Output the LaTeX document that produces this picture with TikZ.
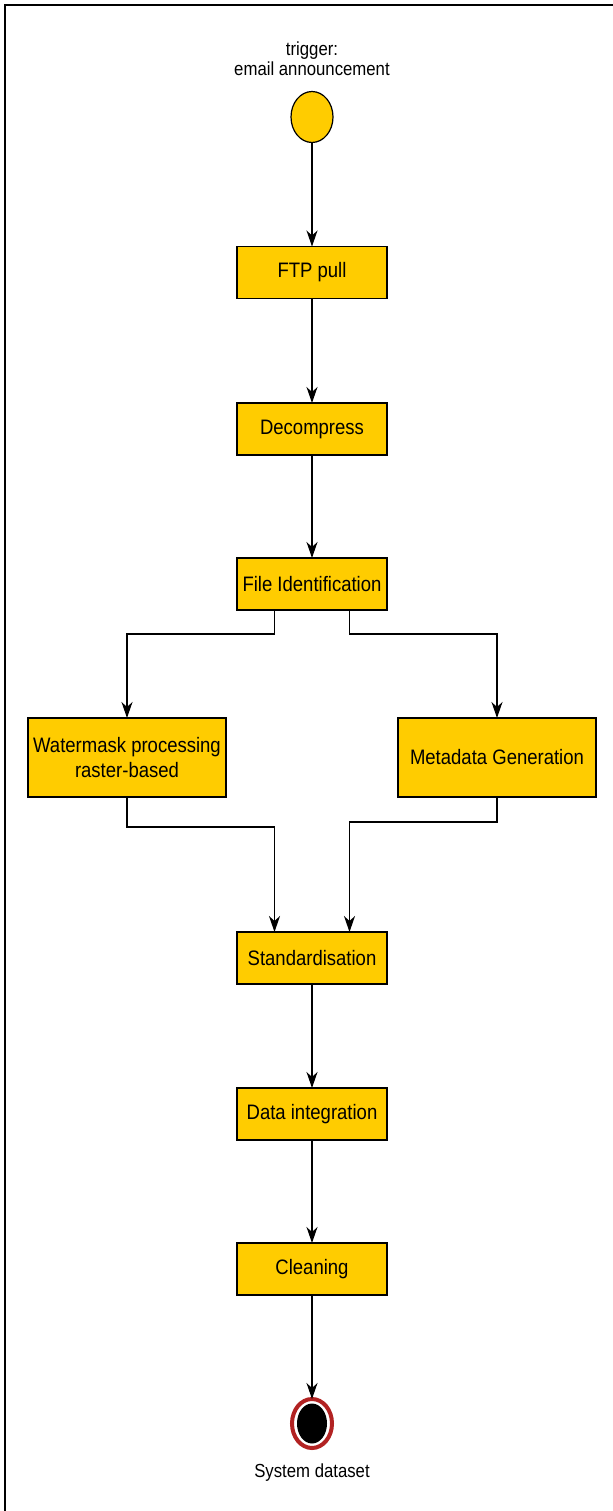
\documentclass[tikz,border=0pt]{standalone}
\usepackage{fontspec}
\setmainfont{Liberation Sans}[FakeStretch=0.885]
\usepackage{tikz}
\usetikzlibrary{positioning}
\usetikzlibrary{arrows.meta}
\usetikzlibrary{shapes,calc}
\definecolor{stepyellow}{RGB}{255,204,0}
\definecolor{endred}{RGB}{178,34,34}
\tikzset{task node/.style={rectangle,fill=stepyellow,draw,line width=1.2bp,outer sep=0pt,minimum width=150bp,minimum height=52bp,inner sep=0pt,align=center,font=\fontsize{21}{25}\selectfont},
	wide node/.style={task node,minimum width=198bp,minimum height=79bp},
	start node/.style={ellipse,fill=stepyellow,draw,line width=1.2bp,outer sep=0pt,minimum width=42bp,minimum height=51bp,inner sep=0pt},
	label node/.style={inner sep=0pt,outer sep=0pt,align=center,font=\fontsize{19}{20}\selectfont},
	flow/.style={-{Stealth[length=16bp,width=11bp,inset=5bp]},line width=1.2bp},}

\begin{document}
\begin{tikzpicture}
	\useasboundingbox (0,0) rectangle (613bp,-1511bp);
	\draw[line width=2.5bp] (5bp,-1511bp) -- (5bp,-5bp) -- (613bp,-5bp);

	\node[start node] (start) at (312bp,-117bp) {};
	\node[label node] (trigger) [above = 16bp of start] {trigger:\\email announcement};
	\node[task node] (ftp) [below = 104bp of start] {FTP pull};
	\node[task node] (dec) [below = 104.5bp of ftp] {Decompress};
	\node[task node] (fid) [below = 103bp of dec] {File Identification};
	\node[wide node] (wm) [below = 108bp of fid, xshift=-185bp] {Watermask processing\\raster-based};
	\node[wide node] (meta) [below = 108bp of fid, xshift=185bp] {Metadata Generation};
	\node[task node] (std) [below = 322bp of fid] {Standardisation};
	\node[task node] (di) [below = 104bp of std] {Data integration};
	\node[task node] (cln) [below = 103bp of di] {Cleaning};
	\node[ellipse,draw=endred,line width=4bp,outer sep=0pt,fill=white,minimum width=40bp,minimum height=49bp,inner sep=0pt] (end) [below = 104bp of cln] {};
	\node[ellipse,fill=black,minimum width=30bp,minimum height=40bp,inner sep=0pt] (endcore) at (end) {};
	\node[label node] (sysdata) [below = 16bp of end] {System dataset};

	\path[draw,flow]
	(start) edge (ftp)
	(ftp) edge (dec)
	(dec) edge (fid)
	(std) edge (di)
	(di) edge (cln)
	(cln) edge (end);

	\draw[flow] ([xshift=-37.5bp]fid.south) -- ++(0,-24bp) -| (wm.north);
	\draw[flow] ([xshift=37.5bp]fid.south) -- ++(0,-24bp) -| (meta.north);
	\draw[flow] (wm.south) -- ++(0,-30bp) -| ([xshift=-37.5bp]std.north);
	\draw[flow] (meta.south) -- ++(0,-25bp) -| ([xshift=37.5bp]std.north);
\end{tikzpicture}
\end{document}
